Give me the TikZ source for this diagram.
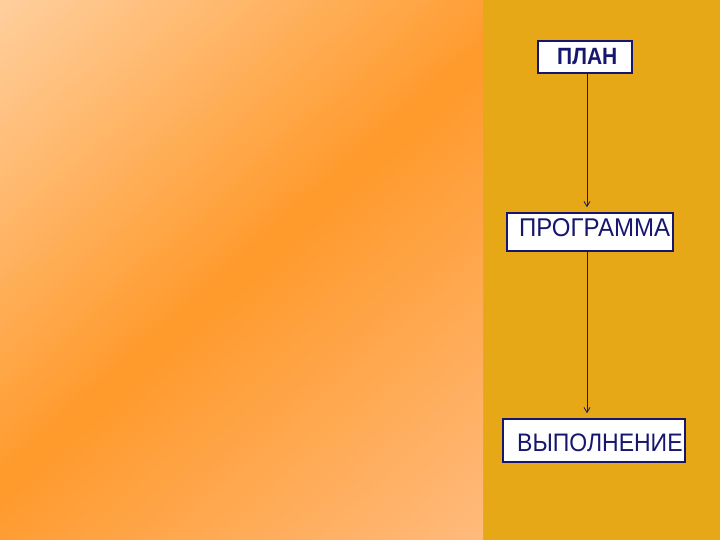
\documentclass[tikz,border=0pt]{standalone}
\usepackage{fontspec}
\setmainfont{Liberation Sans}
\usetikzlibrary{arrows.meta}
\definecolor{peachA}{RGB}{255,206,156}
\definecolor{peachB}{RGB}{255,186,124}
\definecolor{orangeM}{RGB}{255,154,44}
\definecolor{goldpanel}{RGB}{230,168,23}
\definecolor{navy}{RGB}{22,22,110}
\begin{document}
\begin{tikzpicture}[x=1pt,y=1pt,
  box/.style={draw=navy, line width=1.6pt, fill=white, inner sep=0pt},
  lbl/.style={anchor=base west, inner sep=0pt, text=navy},
  conn/.style={draw=navy, line width=0.8pt, -{Straight Barb[length=5pt,width=6pt]}, shorten >=5pt}]
\useasboundingbox (0,0) rectangle (720,540);
\fill[goldpanel] (483,0) rectangle (720,540);
\begin{scope}
  \clip (0,0) rectangle (483,540);
  \begin{scope}[shift={(0,540)}, rotate=-48.2]
    \foreach \i in {0,...,59} {
      \pgfmathtruncatemacro{\p}{100*\i/59}
      \pgfmathsetmacro{\xa}{\i*6.0375}
      \pgfmathsetmacro{\xb}{\i*6.0375+6.6}
      \colorlet{stripe}{orangeM!\p!peachA}
      \fill[stripe] (\xa,-500) rectangle (\xb,500);
    }
    \foreach \i in {0,...,59} {
      \pgfmathtruncatemacro{\p}{100*\i/59}
      \pgfmathsetmacro{\xa}{362.25+\i*6.0375}
      \pgfmathsetmacro{\xb}{362.25+\i*6.0375+6.6}
      \colorlet{stripe}{peachB!\p!orangeM}
      \fill[stripe] (\xa,-500) rectangle (\xb,500);
    }
  \end{scope}
\end{scope}
\node[box, minimum width=94pt, minimum height=32pt] (plan) at (585,483) {};
\node[box, minimum width=166pt, minimum height=38pt] (prog) at (590,308) {};
\node[box, minimum width=182pt, minimum height=43pt] (vyp) at (594,99.5) {};
\node[lbl] (planT) at (557,475) {\scalebox{1}[1.12]{\fontsize{21}{25}\selectfont\bfseries ПЛАН}};
\node[lbl] (progT) at (519,303) {\scalebox{1}[1.07]{\fontsize{24}{28}\selectfont ПРОГРАММА}};
\node[lbl] (vypT) at (517,88) {\scalebox{1}[1.1]{\fontsize{23}{27}\selectfont ВЫПОЛНЕНИЕ}};
\coordinate (ax) at (587,0);
\draw[conn] (plan.south -| ax) -- (prog.north -| ax);
\draw[conn] (prog.south -| ax) -- (vyp.north -| ax);
\end{tikzpicture}
\end{document}
